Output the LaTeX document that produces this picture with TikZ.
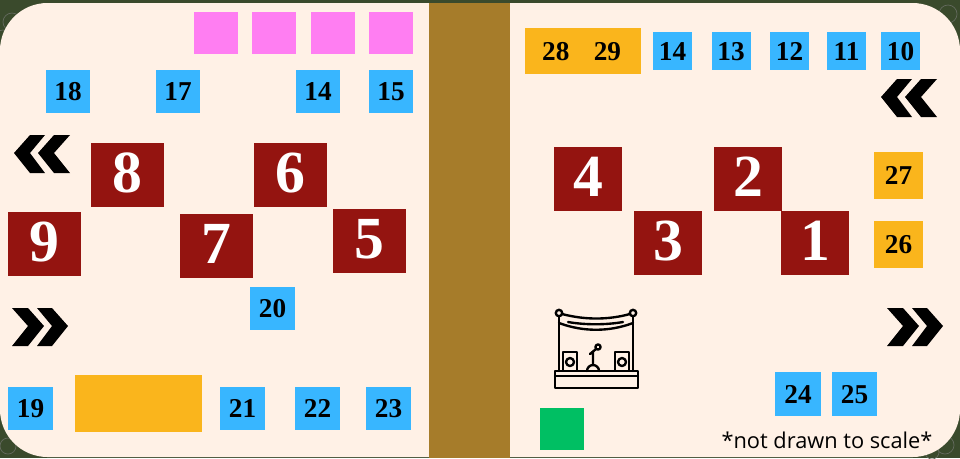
\documentclass[tikz,border=0pt]{standalone}
\usepackage{fontspec}
\setmainfont{Liberation Serif}
\newfontfamily\notefont{Open Sans}
\usepackage{tikz}
\definecolor{leaf}{HTML}{3A4A2C}
\definecolor{cream}{HTML}{FFF1E6}
\definecolor{aisle}{HTML}{A67C2A}
\definecolor{stall}{HTML}{38B6FF}
\definecolor{booth}{HTML}{941410}
\definecolor{gold}{HTML}{FAB51C}
\definecolor{pinkbox}{HTML}{FF7EF2}
\definecolor{greenbox}{HTML}{00BF63}
\tikzset{
  tile/.style={draw=none, inner sep=0pt, text height=10.5pt, text depth=0pt, font=\bfseries\fontsize{15.5}{16}\selectfont, text=black},
  bluetile/.style={tile, fill=stall},
  goldtile/.style={tile, fill=gold},
  redtile/.style={tile, fill=booth, text=white, text height=23pt, text depth=3pt, minimum width=1.46cm, minimum height=1.28cm, font=\bfseries\fontsize{34}{35}\selectfont},
  stageline/.style={line width=1.35pt, line cap=round, line join=round},
  chev/.pic={
    \fill (0,18) -- (16,0) -- (31,0) -- (16,18) -- (31,38) -- (16,38) -- cycle;
    \fill (24,18) -- (40,0) -- (56,0) -- (40,18) -- (56,38) -- (40,38) -- cycle;
  }
}
\begin{document}
\begin{tikzpicture}[x=0.02cm, y=-0.02cm]
  \useasboundingbox (0,0) rectangle (960,458);
  \fill[leaf] (0,0) rectangle (960,458);
  \draw[gray!60!leaf, line width=0.4pt] (12,22) circle (9) (3,38) circle (8) (948,14) circle (9) (948,36) circle (8) (8,446) circle (8) (945,445) circle (9) (932,452) circle (7);
  \fill[cream, rounded corners=0.95cm] (0,3) rectangle (960,457);
  \fill[aisle] (429,3) rectangle (510,458);

  \foreach \x in {216,274,333,391}
    \node[fill=pinkbox, minimum width=0.88cm, minimum height=0.84cm, inner sep=0pt] (pink\x) at (\x,33) {};
  \node[fill=gold, minimum width=2.54cm, minimum height=1.14cm, inner sep=0pt] (goldwide) at (138.5,403.5) {};
  \node[fill=greenbox, minimum width=0.88cm, minimum height=0.84cm, inner sep=0pt] (greenbox) at (562,429) {};

  \foreach \name/\x/\y/\lab in {a/68/91/18, b/178/91/17, c/318/91/14, d/391/91/15, e/272.5/308.5/20, f/30.5/408.5/19, g/242.5/408.5/21, h/317.5/408.5/22, i/388.5/408.5/23}
    \node[bluetile, minimum width=0.89cm, minimum height=0.86cm] (blue\name) at (\x,\y) {\lab};
  \foreach \name/\x/\lab in {j/672.5/14, k/731/13, l/789.5/12, m/846.5/11, n/900.5/10}
    \node[bluetile, minimum width=0.78cm, minimum height=0.76cm] (blue\name) at (\x,51) {\lab};
  \foreach \name/\x/\lab in {o/798/24, p/854.5/25}
    \node[bluetile, minimum width=0.91cm, minimum height=0.88cm] (blue\name) at (\x,394) {\lab};

  \foreach \x/\y/\lab in {127.5/175/8, 290.5/175/6, 44.5/244/9, 216.5/246/7, 369.5/241/5}
    \node[redtile] (red\lab) at (\x,\y) {\lab};
  \foreach \x/\y/\lab in {588/179/4, 748/179/2, 668/243/3, 815/243/1}
    \node[redtile, minimum width=1.36cm] (red\lab) at (\x,\y) {\lab};

  \node[goldtile, minimum width=2.32cm, minimum height=0.92cm] (gold2829) at (583,51) {\hspace{-0.1em}28\hspace{0.9em}29};
  \node[goldtile, minimum width=0.98cm, minimum height=0.94cm] (gold27) at (898.5,175.5) {27};
  \node[goldtile, minimum width=0.98cm, minimum height=0.94cm] (gold26) at (898.5,244.5) {26};

  \pic at (14,135) {chev};
  \pic at (881,79) {chev};
  \pic[xscale=-1] at (68,308) {chev};
  \pic[xscale=-1] at (943,308) {chev};

  \draw[stageline] (555,371) rectangle (638,388) (555,376) -- (638,376);
  \draw[stageline] (559,316) -- (559,371) (633,316) -- (633,371);
  \draw[stageline, fill=cream] (559,313) circle (3.2) (633,313) circle (3.2);
  \draw[stageline] (562,314) .. controls (585,320) and (608,320) .. (630,314);
  \draw[stageline] (559,323) .. controls (583,332) and (609,332) .. (633,323);
  \draw[stageline] (568,322) .. controls (585,325) and (606,325) .. (623,322);
  \draw[stageline, fill=cream] (563,352) rectangle (577,371) (615,352) rectangle (629,371);
  \draw[stageline] (570,362) circle (4) (622,362) circle (4);
  \draw[stageline] (598,347) circle (2.6);
  \draw[stageline] (596,349) -- (590,354) (593,352) -- (593,365);
  \draw[stageline] (587,371) arc (180:360:6);

  \node[font=\notefont\fontsize{12.4}{13}\selectfont, inner sep=0pt] (scalenote) at (827,440) {*not drawn to scale*};
\end{tikzpicture}
\end{document}
